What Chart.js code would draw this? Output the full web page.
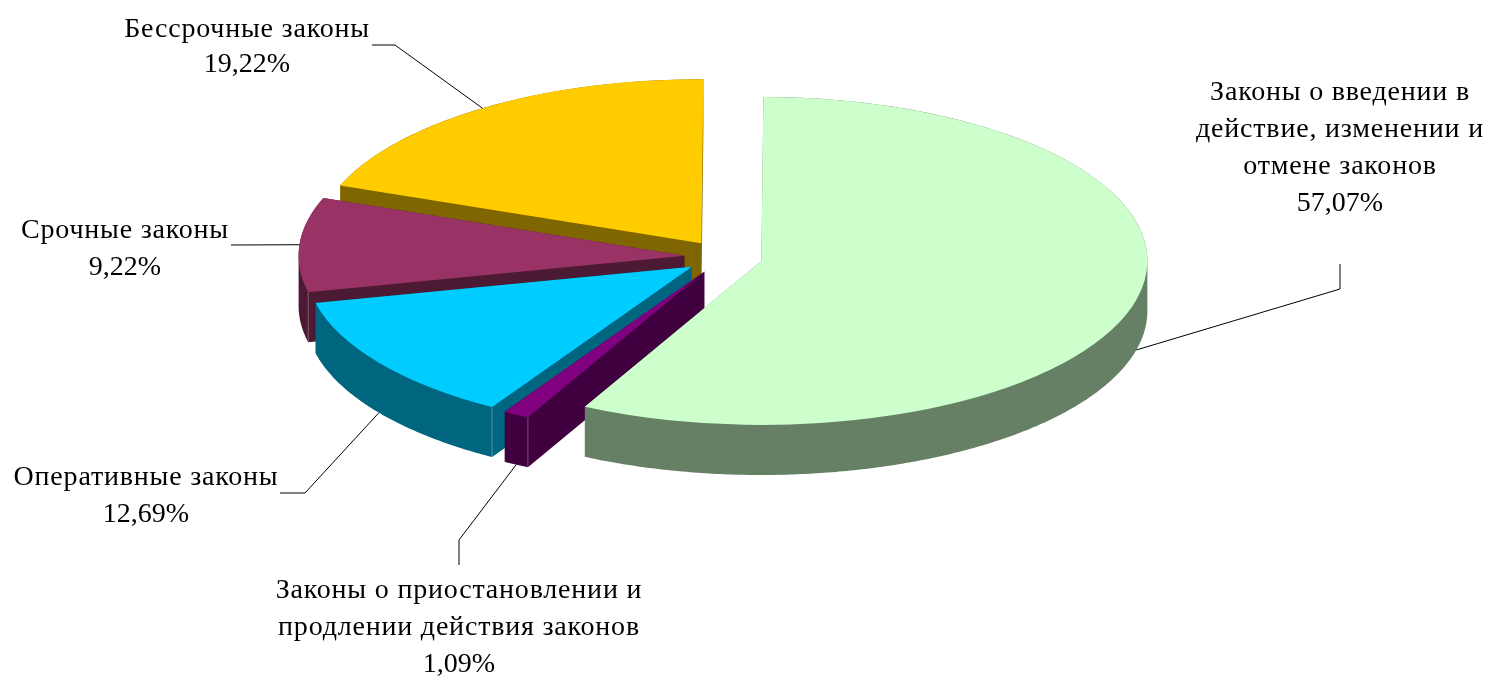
<!DOCTYPE html>
<html>
<head>
<meta charset="utf-8">
<style>
  html, body { margin: 0; padding: 0; background: #fff; }
  #wrap { width: 1488px; height: 678px; }
</style>
<script src="https://cdn.jsdelivr.net/npm/chart.js@4"></script>
</head>
<body>
<div id="wrap"><canvas id="chart"></canvas></div>
<script>
const categories = [
  "Законы о введении в действие, изменении и отмене законов",
  "Законы о приостановлении и продлении действия законов",
  "Оперативные законы",
  "Срочные законы",
  "Бессрочные законы"
];
const shares = [57.07, 1.09, 12.69, 9.22, 19.22];
const labelLines = [
  ["Законы о введении в", "действие, изменении и", "отмене законов"],
  ["Законы о приостановлении и", "продлении действия законов"],
  ["Оперативные законы"],
  ["Срочные законы"],
  ["Бессрочные законы"]
];

const topColors = ["#CCFFCC", "#800080", "#00CCFF", "#993366", "#FFCC00"];
const wallColors = ["#668066", "#400040", "#006680", "#4D1A33", "#806600"];

// pie tilt
const squash = 0.425;
const depth = 50;
const explode = 39;
// back to front
const drawOrder = [4, 3, 2, 1, 0];
// slices with a visible front corner on the wall
const seamSlices = [1, 2, 3];

// label block: centre x, baseline of first line, line gap; leader: points after the slice edge
const labelPos = [
  { x: 1340, y: 100, gap: 37, leader: [[1340, 289], [1340, 264]], onWall: true },
  { x: 459, y: 598, gap: 37, leader: [[459, 540], [459, 565]], onWall: true },
  { x: 146, y: 485, gap: 37, leader: [[305, 493], [280, 493]], onWall: true },
  { x: 125, y: 238, gap: 37, leader: [[231, 245]], onWall: false },
  { x: 247, y: 37, gap: 35, leader: [[395, 45], [372, 45]], onWall: false }
];

function percentText(v) {
  return v.toFixed(2).replace(".", ",") + "%";
}

// where a slice sits once it is pulled out of the flat pie
function sliceShift(arc) {
  const mid = (arc.startAngle + arc.endAngle) / 2;
  return { x: Math.cos(mid) * explode, y: Math.sin(mid) * explode };
}

function project(arc, shift, angle, radius) {
  return {
    x: arc.x + shift.x + Math.cos(angle) * radius,
    y: arc.y + (shift.y + Math.sin(angle) * radius) * squash
  };
}

function addPoly(ctx, pts) {
  // all sub paths wound the same way, so the fill is one clean union
  let area = 0;
  pts.forEach((p, i) => {
    const q = pts[(i + 1) % pts.length];
    area += p.x * q.y - q.x * p.y;
  });
  const list = area < 0 ? pts.slice().reverse() : pts;
  ctx.moveTo(list[0].x, list[0].y);
  for (let i = 1; i < list.length; i++) ctx.lineTo(list[i].x, list[i].y);
  ctx.closePath();
}

function drawWall(ctx, arc, shift, color) {
  const steps = Math.ceil((arc.endAngle - arc.startAngle) / 0.01);
  const outline = [project(arc, shift, 0, 0)];
  for (let s = 0; s <= steps; s++) {
    const a = arc.startAngle + (arc.endAngle - arc.startAngle) * s / steps;
    outline.push(project(arc, shift, a, arc.outerRadius));
  }
  ctx.beginPath();
  addPoly(ctx, outline.map(p => ({ x: p.x, y: p.y + depth })));
  outline.forEach((p, i) => {
    const q = outline[(i + 1) % outline.length];
    addPoly(ctx, [p, q, { x: q.x, y: q.y + depth }, { x: p.x, y: p.y + depth }]);
  });
  ctx.fillStyle = color;
  ctx.fill("nonzero");
}

const pie3d = {
  id: "pie3d",
  beforeDatasetDraw(chart, args) {
    const ctx = chart.ctx;
    const arcs = args.meta.data;

    for (const i of drawOrder) {
      const arc = arcs[i];
      const shift = sliceShift(arc);

      drawWall(ctx, arc, shift, wallColors[i]);

      if (seamSlices.includes(i)) {
        const c = project(arc, shift, arc.startAngle, arc.outerRadius);
        ctx.beginPath();
        ctx.moveTo(c.x, c.y);
        ctx.lineTo(c.x, c.y + depth);
        ctx.strokeStyle = "rgba(255,255,255,0.3)";
        ctx.lineWidth = 1;
        ctx.stroke();
      }

      // top face is the library's own arc
      ctx.save();
      ctx.translate(0, arc.y);
      ctx.scale(1, squash);
      ctx.translate(shift.x, shift.y - arc.y);
      arc.draw(ctx);
      ctx.restore();
    }
    return false;
  },
  afterDraw(chart) {
    const ctx = chart.ctx;
    const arcs = chart.getDatasetMeta(0).data;

    ctx.save();
    ctx.strokeStyle = "#000";
    ctx.lineWidth = 1;
    ctx.fillStyle = "#000";
    ctx.font = "28px 'Liberation Serif'";
    ctx.textAlign = "center";
    ctx.textBaseline = "alphabetic";

    arcs.forEach((arc, i) => {
      const pos = labelPos[i];
      const mid = (arc.startAngle + arc.endAngle) / 2;
      const s = project(arc, sliceShift(arc), mid, arc.outerRadius);

      ctx.beginPath();
      ctx.moveTo(s.x, s.y + (pos.onWall ? depth : 0));
      for (const p of pos.leader) ctx.lineTo(p[0], p[1]);
      ctx.stroke();

      // names run a little wider than the numbers in the original
      ctx.letterSpacing = "0.8px";
      labelLines[i].forEach((line, n) => {
        ctx.fillText(line, pos.x, pos.y + n * pos.gap);
      });
      ctx.letterSpacing = "0px";
      ctx.fillText(percentText(shares[i]), pos.x, pos.y + labelLines[i].length * pos.gap);
    });
    ctx.restore();
  }
};

new Chart(document.getElementById("chart"), {
  type: "pie",
  data: {
    labels: categories,
    datasets: [{
      data: shares,
      backgroundColor: topColors,
      borderWidth: 0
    }]
  },
  options: {
    responsive: true,
    maintainAspectRatio: false,
    animation: false,
    rotation: 0.3,
    radius: 386,
    layout: { padding: { right: 41, bottom: 164 } },
    plugins: {
      legend: { display: false },
      tooltip: { enabled: false }
    }
  },
  plugins: [pie3d]
});
</script>
</body>
</html>
